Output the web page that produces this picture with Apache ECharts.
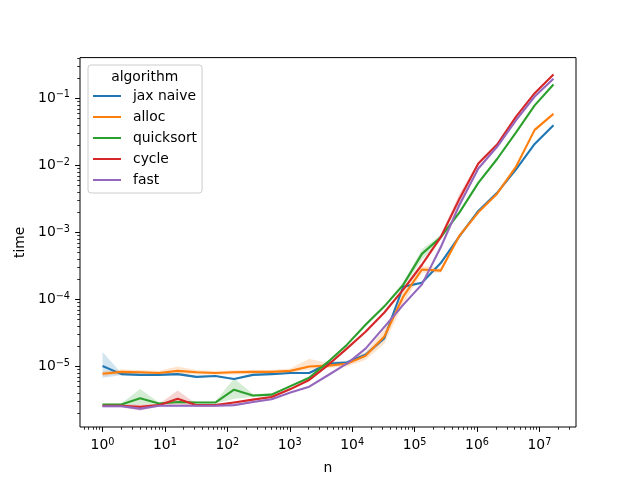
<!DOCTYPE html>
<html><head><meta charset="utf-8">
<script src="https://cdn.jsdelivr.net/npm/echarts@6/dist/echarts.min.js"></script>
<style>html,body{margin:0;padding:0;background:#fff}#c{width:640px;height:480px}</style>
</head><body><div id="c"></div>
<script>
// ---- data ----
const n = [1, 2, 4, 8, 16, 32, 64, 128, 256, 512, 1024, 2048, 4096, 8192, 16384, 32768, 65536, 131072, 262144, 524288, 1048576, 2097152, 4194304, 8388608, 16777216];
const algorithms = ['jax naive', 'alloc', 'quicksort', 'cycle', 'fast'];

const jaxNaive   = [1.02e-5, 7.7e-6, 7.5e-6, 7.5e-6, 7.7e-6, 7.0e-6, 7.2e-6, 6.5e-6, 7.5e-6, 7.7e-6, 8.0e-6, 8.0e-6, 1.1e-5, 1.15e-5, 1.5e-5, 2.65e-5, 1.55e-4, 1.78e-4, 3.5e-4, 8.8e-4, 2.1e-3, 3.9e-3, 8.7e-3, 2.1e-2, 4.0e-2];
const jaxNaiveLo = [6.8e-6, 7.4e-6, 7.2e-6, 7.2e-6, 7.4e-6, 6.8e-6, 7.0e-6, 6.3e-6, 7.3e-6, 7.5e-6, 7.8e-6, 7.8e-6, 1.0e-5, 1.08e-5, 1.4e-5, 2.5e-5, 1.45e-4, 1.7e-4, 3.4e-4, 8.5e-4, 2.05e-3, 3.8e-3, 8.5e-3, 2.05e-2, 3.9e-2];
const jaxNaiveHi = [1.64e-5, 8.0e-6, 7.8e-6, 7.8e-6, 8.0e-6, 7.2e-6, 7.4e-6, 6.7e-6, 7.7e-6, 7.9e-6, 8.2e-6, 8.2e-6, 1.2e-5, 1.22e-5, 1.6e-5, 2.85e-5, 1.65e-4, 1.86e-4, 3.6e-4, 9.1e-4, 2.15e-3, 4.0e-3, 8.9e-3, 2.15e-2, 4.1e-2];

const alloc   = [7.8e-6, 8.3e-6, 8.2e-6, 8.0e-6, 8.6e-6, 8.2e-6, 8.0e-6, 8.2e-6, 8.3e-6, 8.3e-6, 8.6e-6, 1.0e-5, 1.03e-5, 1.1e-5, 1.45e-5, 2.8e-5, 1.1e-4, 2.8e-4, 2.7e-4, 9.0e-4, 2.0e-3, 3.8e-3, 9.5e-3, 3.4e-2, 5.9e-2];
const allocLo = [7.2e-6, 7.7e-6, 7.6e-6, 7.5e-6, 7.8e-6, 7.6e-6, 7.5e-6, 7.6e-6, 7.7e-6, 7.7e-6, 8.0e-6, 9.0e-6, 9.5e-6, 1.0e-5, 1.25e-5, 2.2e-5, 8.5e-5, 2.5e-4, 2.5e-4, 8.3e-4, 1.9e-3, 3.6e-3, 9.0e-3, 3.2e-2, 5.7e-2];
const allocHi = [8.4e-6, 9.0e-6, 8.9e-6, 8.6e-6, 1.0e-5, 8.9e-6, 8.6e-6, 8.8e-6, 8.9e-6, 8.9e-6, 9.3e-6, 1.3e-5, 1.12e-5, 1.2e-5, 1.65e-5, 3.6e-5, 1.4e-4, 3.2e-4, 2.95e-4, 9.8e-4, 2.1e-3, 4.0e-3, 1.0e-2, 3.6e-2, 6.1e-2];

const quicksort   = [2.7e-6, 2.7e-6, 3.35e-6, 2.8e-6, 2.95e-6, 2.9e-6, 2.9e-6, 4.5e-6, 3.7e-6, 3.8e-6, 5.1e-6, 6.8e-6, 1.17e-5, 2.1e-5, 4.2e-5, 7.9e-5, 1.65e-4, 4.8e-4, 8.5e-4, 2.0e-3, 5.5e-3, 1.25e-2, 3.1e-2, 7.9e-2, 1.62e-1];
const quicksortLo = [2.6e-6, 2.6e-6, 2.7e-6, 2.7e-6, 2.8e-6, 2.8e-6, 2.8e-6, 3.3e-6, 3.5e-6, 3.6e-6, 4.9e-6, 6.5e-6, 1.12e-5, 2.0e-5, 4.0e-5, 7.5e-5, 1.5e-4, 3.9e-4, 7.8e-4, 1.9e-3, 5.3e-3, 1.2e-2, 3.0e-2, 7.7e-2, 1.58e-1];
const quicksortHi = [2.8e-6, 2.8e-6, 4.6e-6, 2.9e-6, 3.1e-6, 3.0e-6, 3.0e-6, 6.6e-6, 3.9e-6, 4.0e-6, 5.3e-6, 7.1e-6, 1.22e-5, 2.2e-5, 4.4e-5, 8.3e-5, 1.8e-4, 5.6e-4, 9.2e-4, 2.1e-3, 5.7e-3, 1.3e-2, 3.2e-2, 8.1e-2, 1.66e-1];

const cycle   = [2.6e-6, 2.6e-6, 2.5e-6, 2.65e-6, 3.3e-6, 2.65e-6, 2.65e-6, 2.9e-6, 3.2e-6, 3.5e-6, 4.6e-6, 6.3e-6, 1.05e-5, 1.85e-5, 3.3e-5, 6.4e-5, 1.4e-4, 3.3e-4, 8.5e-4, 3.2e-3, 1.07e-2, 2.05e-2, 5.3e-2, 0.12, 0.228];
const cycleLo = [2.5e-6, 2.5e-6, 2.2e-6, 2.55e-6, 2.7e-6, 2.55e-6, 2.55e-6, 2.8e-6, 3.1e-6, 3.4e-6, 4.4e-6, 6.1e-6, 1.0e-5, 1.78e-5, 3.2e-5, 6.1e-5, 1.32e-4, 3.1e-4, 7.8e-4, 2.7e-3, 1.0e-2, 2.0e-2, 5.1e-2, 0.117, 0.222];
const cycleHi = [2.7e-6, 2.7e-6, 2.7e-6, 2.75e-6, 4.4e-6, 2.75e-6, 2.75e-6, 3.0e-6, 3.3e-6, 3.6e-6, 4.8e-6, 6.5e-6, 1.1e-5, 1.92e-5, 3.4e-5, 6.7e-5, 1.48e-4, 3.6e-4, 9.3e-4, 3.8e-3, 1.14e-2, 2.1e-2, 5.5e-2, 0.124, 0.234];

const fast   = [2.55e-6, 2.55e-6, 2.35e-6, 2.6e-6, 2.6e-6, 2.6e-6, 2.6e-6, 2.65e-6, 2.95e-6, 3.25e-6, 4.1e-6, 5.0e-6, 7.4e-6, 1.1e-5, 1.85e-5, 3.9e-5, 8.3e-5, 1.68e-4, 6.0e-4, 2.6e-3, 9.0e-3, 1.9e-2, 4.7e-2, 0.107, 0.197];
const fastLo = [2.45e-6, 2.45e-6, 2.2e-6, 2.5e-6, 2.5e-6, 2.5e-6, 2.5e-6, 2.55e-6, 2.85e-6, 3.15e-6, 4.0e-6, 4.85e-6, 7.2e-6, 1.07e-5, 1.8e-5, 3.7e-5, 7.9e-5, 1.6e-4, 5.5e-4, 2.3e-3, 8.6e-3, 1.85e-2, 4.6e-2, 0.104, 0.192];
const fastHi = [2.65e-6, 2.65e-6, 2.5e-6, 2.7e-6, 2.7e-6, 2.7e-6, 2.7e-6, 2.75e-6, 3.05e-6, 3.35e-6, 4.2e-6, 5.15e-6, 7.6e-6, 1.13e-5, 1.9e-5, 4.1e-5, 8.7e-5, 1.75e-4, 6.6e-4, 2.9e-3, 9.4e-3, 1.95e-2, 4.8e-2, 0.11, 0.202];

const xTicks = [1, 10, 100, 1000, 10000, 100000, 1000000, 10000000];
const yTicks = [1e-5, 1e-4, 1e-3, 1e-2, 1e-1];

// ---- styling / layout ----
const colors = ['#1f77b4', '#ff7f0e', '#2ca02c', '#d62728', '#9467bd'];
const bandColors = ['rgba(31,119,180,0.2)', 'rgba(255,127,14,0.2)', 'rgba(44,160,44,0.2)', 'rgba(214,39,40,0.2)', 'rgba(148,103,189,0.2)'];
const means = [jaxNaive, alloc, quicksort, cycle, fast];
const lows = [jaxNaiveLo, allocLo, quicksortLo, cycleLo, fastLo];
const highs = [jaxNaiveHi, allocHi, quicksortHi, cycleHi, fastHi];

const xMin = Math.pow(10, -0.3612), xMax = Math.pow(10, 7.5859);
const yMin = Math.pow(10, -5.903), yMax = Math.pow(10, -0.39);

function minorTicks(lo, hi) {
  const out = [];
  for (let e = -8; e <= 8; e++) {
    for (let m = 2; m <= 9; m++) {
      const v = m * Math.pow(10, e);
      if (v >= lo && v <= hi) out.push(v);
    }
  }
  return out;
}
const xMinor = minorTicks(xMin, xMax);
const yMinor = minorTicks(yMin, yMax);

const FONT = 'DejaVu Sans';
function powLabel(v) {
  const e = Math.round(Math.log10(v));
  const s = e < 0 ? '\u2212' + (-e) : String(e);
  return '{b|10}{s|' + s + '}';
}
const rich = {
  b: { fontSize: 13.9, fontFamily: FONT, color: '#000' },
  s: { fontSize: 9.7, fontFamily: FONT, color: '#000', padding: [0, 0, 7, 0] }
};

const series = [];
algorithms.forEach((name, i) => {
  series.push({
    type: 'custom',
    name: name + ' ci',
    silent: true,
    xAxisIndex: 0, yAxisIndex: 0,
    z: 2,
    data: n.map((x, j) => [x, lows[i][j], highs[i][j]]),
    encode: { x: 0, y: [1, 2] },
    renderItem: function (params, api) {
      if (params.dataIndex !== 0) return null;
      const pts = [];
      for (let j = 0; j < n.length; j++) pts.push(api.coord([n[j], highs[i][j]]));
      for (let j = n.length - 1; j >= 0; j--) pts.push(api.coord([n[j], lows[i][j]]));
      return { type: 'polygon', shape: { points: pts }, style: { fill: bandColors[i], stroke: null } };
    }
  });
  series.push({
    type: 'line',
    name: name,
    xAxisIndex: 0, yAxisIndex: 0,
    z: 3,
    data: n.map((x, j) => [x, means[i][j]]),
    showSymbol: false,
    symbol: 'none',
    lineStyle: { color: colors[i], width: 2.1, join: 'round' },
    itemStyle: { color: colors[i] },
    emphasis: { disabled: true }
  });
});

const chart = echarts.init(document.getElementById('c'));
chart.setOption({
  animation: false,
  backgroundColor: '#fff',
  grid: { left: 80, right: 64, top: 57.6, bottom: 52.8, show: true, borderColor: '#000', borderWidth: 1, backgroundColor: 'transparent', containLabel: false },
  xAxis: [
    {
      type: 'log', logBase: 10, min: xMin, max: xMax, position: 'bottom',
      name: 'n', nameLocation: 'middle', nameGap: 34,
      nameTextStyle: { fontFamily: FONT, fontSize: 13.9, color: '#000' },
      axisLine: { show: false }, splitLine: { show: false }, minorTick: { show: false },
      axisTick: { show: true, customValues: xTicks, length: 4.9, lineStyle: { color: '#000', width: 1 } },
      axisLabel: { show: true, customValues: xTicks, formatter: powLabel, rich: rich, margin: 10 }
    },
    {
      type: 'log', logBase: 10, min: xMin, max: xMax, position: 'bottom',
      axisLine: { show: false }, splitLine: { show: false },
      axisTick: { show: true, customValues: xMinor, length: 2.8, lineStyle: { color: '#000', width: 0.8 } },
      axisLabel: { show: false }
    }
  ],
  yAxis: [
    {
      type: 'log', logBase: 10, min: yMin, max: yMax, position: 'left',
      name: 'time', nameLocation: 'middle', nameGap: 47,
      nameTextStyle: { fontFamily: FONT, fontSize: 13.9, color: '#000' },
      axisLine: { show: false }, splitLine: { show: false },
      axisTick: { show: true, customValues: yTicks, length: 4.9, lineStyle: { color: '#000', width: 1 } },
      axisLabel: { show: true, customValues: yTicks, formatter: powLabel, rich: rich, margin: 10 }
    },
    {
      type: 'log', logBase: 10, min: yMin, max: yMax, position: 'left',
      axisLine: { show: false }, splitLine: { show: false },
      axisTick: { show: true, customValues: yMinor, length: 2.8, lineStyle: { color: '#000', width: 0.8 } },
      axisLabel: { show: false }
    }
  ],
  legend: {
    data: algorithms.map(a => ({ name: a, icon: 'rect' })),
    orient: 'vertical', left: 88, top: 65,
    itemWidth: 28, itemHeight: 2, itemGap: 5,
    padding: [23, 5, 5, 5],
    backgroundColor: 'rgba(255,255,255,0.8)', borderColor: '#cccccc', borderWidth: 1, borderRadius: 3,
    textStyle: { fontFamily: FONT, fontSize: 13.9, color: '#000', padding: [0, 0, 0, 7], lineHeight: 16 },
    selectedMode: false, z: 10
  },
  graphic: [{
    type: 'text', x: 144.7, y: 77, z: 100,
    style: { text: 'algorithm', font: '13.9px "DejaVu Sans"', fill: '#000', align: 'center', verticalAlign: 'middle' }
  }],
  series: series
});
</script>
</body></html>
